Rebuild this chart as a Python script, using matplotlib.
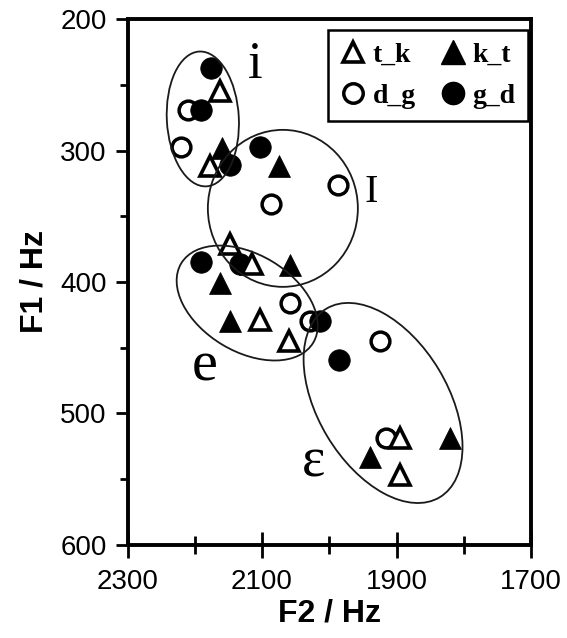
import matplotlib.pyplot as plt
from matplotlib.patches import Ellipse
from matplotlib.transforms import ScaledTranslation
from matplotlib.lines import Line2D

plt.rcParams['font.family'] = ['Liberation Sans', 'DejaVu Sans']

# formant values (Hz) for each consonant context
tk_f2 = [2163, 2177, 2148, 2115, 2103, 2060, 1895, 1895]
tk_f1 = [255, 312, 371, 386, 429, 445, 519, 547]
kt_f2 = [2160, 2074, 2059, 2163, 2148, 1821, 1940]
kt_f1 = [298, 312, 387, 401, 430, 519, 533]
dg_f2 = [2210, 2220, 2087, 1987, 2059, 2028, 1925, 1915]
dg_f1 = [269, 297, 341, 326, 416, 430, 445, 519]
gd_f2 = [2176, 2191, 2148, 2103, 2190, 2132, 2014, 1986]
gd_f1 = [237, 269, 311, 297, 385, 386, 430, 459]

# vowel labels and the centre of each vowel region
vowels = ['i', 'I', 'e', 'ε']
vowel_f2 = [2110, 1937, 2185, 2024]
vowel_f1 = [235, 332, 464, 537]
region_f2 = [2188, 2069, 2122, 1920]
region_f1 = [276, 344, 416, 492]

fig = plt.figure(figsize=(5.67, 6.38), dpi=100)
ax = fig.add_axes([0.2249, 0.1458, 0.7116, 0.8244])

open_kw = dict(ls='none', mfc='white', mec='black')
ax.plot(dg_f2, dg_f1, marker='o', ms=13.5, mew=2.5, zorder=3, **open_kw)
ax.plot(gd_f2, gd_f1, marker='o', ms=15.5, mfc='black', mec='black', mew=0.5, ls='none', zorder=4)
ax.plot(kt_f2, kt_f1, marker='^', ms=16, mfc='black', mec='black', mew=0.5, ls='none', zorder=5)
ax.plot(tk_f2, tk_f1, marker='^', ms=14, mew=2.6, zorder=6, **open_kw)

ax.set_xlim(2300, 1700)
ax.set_ylim(600, 200)

# ellipses drawn in screen units (px) around each region centre
ell_size = [(135, 72, 93), (150, 157, 0), (154, 97, -31), (220, 130, -59)]
for cx, cy, (w, h, ang) in zip(region_f2, region_f1, ell_size):
    tr = fig.dpi_scale_trans + ScaledTranslation(cx, cy, ax.transData)
    ax.add_patch(Ellipse((0, 0), w / 100, h / 100, angle=ang, transform=tr,
                         fill=False, ec='#1a1a1a', lw=1.3, zorder=7))

sizes = {'i': 38, 'I': 29, 'e': 42, 'ε': 40}
for v, x, y in zip(vowels, vowel_f2, vowel_f1):
    ax.text(x, y, v, fontsize=sizes[v], family='Liberation Serif',
            ha='center', va='center', zorder=8)

ax.set_xticks([2300, 2100, 1900, 1700])
ax.set_xticks([2200, 2000, 1800], minor=True)
ax.set_yticks([200, 300, 400, 500, 600])
ax.set_yticks([250, 350, 450, 550], minor=True)
ax.tick_params(axis='x', which='major', direction='inout', length=19, width=2, labelsize=20, pad=8)
ax.tick_params(axis='x', which='minor', direction='inout', length=13, width=2)
ax.tick_params(axis='y', which='major', direction='out', length=9, width=2, labelsize=20, pad=6)
ax.tick_params(axis='y', which='minor', direction='out', length=6, width=2)
for sp in ax.spines.values():
    sp.set_linewidth(2.8)

ax.set_xlabel('F2 / Hz', fontsize=23, fontweight='bold', labelpad=2)
ax.set_ylabel('F1 / Hz', fontsize=23, fontweight='bold', labelpad=8)

h_tk = Line2D([], [], marker='^', ms=15, mew=2.6, **open_kw)
h_kt = Line2D([], [], marker='^', ms=17, mfc='black', mec='black', ls='none')
h_dg = Line2D([], [], marker='o', ms=14, mew=2.5, **open_kw)
h_gd = Line2D([], [], marker='o', ms=16, mfc='black', mec='black', ls='none')
leg = ax.legend([h_tk, h_dg, h_kt, h_gd], ['t_k', 'd_g', 'k_t', 'g_d'], ncol=2,
                loc='upper right', bbox_to_anchor=(0.993, 0.979), borderaxespad=0,
                prop={'family': 'Liberation Serif', 'weight': 'bold', 'size': 20},
                fancybox=False, edgecolor='black', framealpha=1, numpoints=1,
                handlelength=0.9, handletextpad=0.25, columnspacing=0.9,
                borderpad=0.45, labelspacing=0.55)
leg.get_frame().set_linewidth(1.8)
leg.set_zorder(10)

fig.savefig('out.png', dpi=100)
